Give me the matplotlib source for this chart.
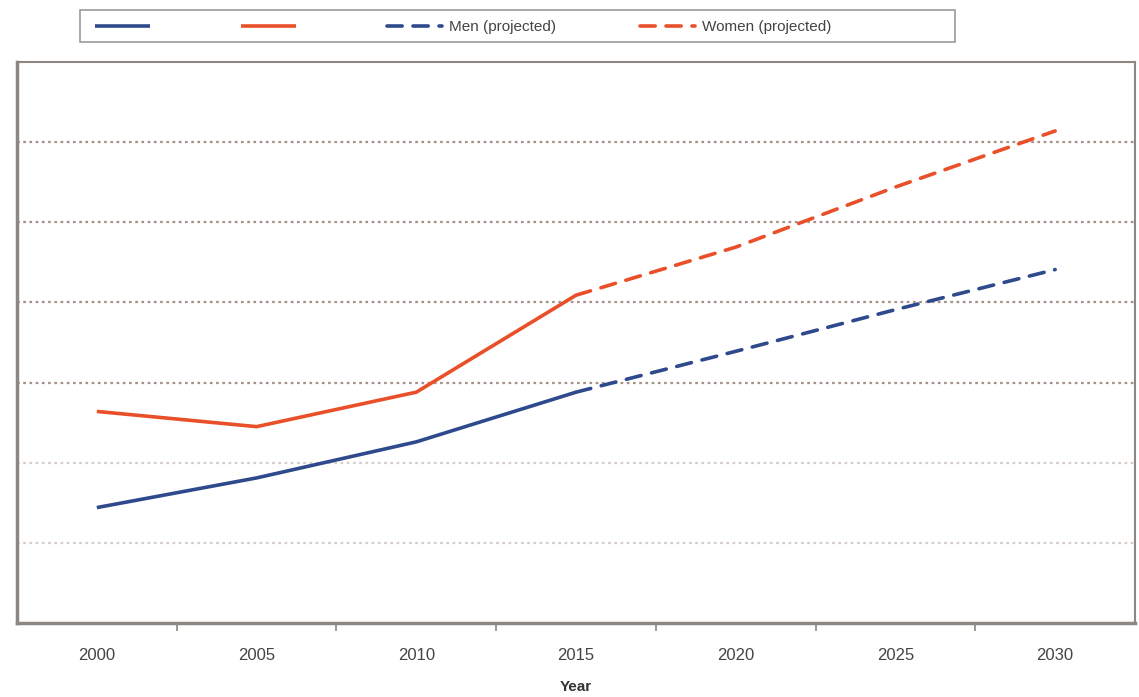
import matplotlib
matplotlib.use("Agg")
import matplotlib.pyplot as plt
from matplotlib.patches import Rectangle

years = ["2000", "2005", "2010", "2015", "2020", "2025", "2030"]
actual_years = ["2000", "2005", "2010", "2015"]
proj_years = ["2015", "2020", "2025", "2030"]

men_actual = [1.44, 1.81, 2.26, 2.88]
women_actual = [2.64, 2.45, 2.88, 4.09]
men_proj = [2.88, 3.39, 3.91, 4.41]
women_proj = [4.09, 4.69, 5.44, 6.14]

grid_levels = [1, 2, 3, 4, 5, 6]

_BLUE = "#2f4a8c"
_RED = "#e9502a"
_FRAME = "#8c8782"
_TEXT = "#444444"

plt.rcParams["font.family"] = ["Liberation Sans", "DejaVu Sans"]

fig = plt.figure(figsize=(11.39, 6.97), dpi=100)
ax = fig.add_axes([0.0149, 0.1062, 0.9816, 0.8048])

ax.plot(years, [None] * len(years), alpha=0)  # fix category order
l1, = ax.plot(actual_years, men_actual, "-", color=_BLUE, lw=2.6,
              solid_capstyle="butt")
l2, = ax.plot(actual_years, women_actual, "-", color=_RED, lw=2.6,
              solid_capstyle="butt")
l3, = ax.plot(proj_years, men_proj, "--", color=_BLUE, lw=2.6,
              dashes=(4.2, 3.0), dash_capstyle="round")
l4, = ax.plot(proj_years, women_proj, "--", color=_RED, lw=2.6,
              dashes=(4.2, 3.0), dash_capstyle="round")

ax.set_xlim(-0.5, 6.5)
ax.set_ylim(0, 7)
ax.set_yticks(grid_levels)
ax.set_yticklabels([])
ax.tick_params(axis="y", length=0)
ax.grid(axis="y", ls=(0, (1.2, 1.6)), lw=1.6, color="#a39189")
for i, gl in enumerate(ax.get_ygridlines()):
    if i < 2:
        gl.set_alpha(0.45)
ax.set_axisbelow(True)

ax.set_xticks(range(len(years)))
ax.set_xticklabels(years, fontsize=12, color=_TEXT)
ax.tick_params(axis="x", which="major", length=0, pad=18)
ax.set_xticks([i + 0.5 for i in range(len(years) - 1)], minor=True)
ax.tick_params(axis="x", which="minor", length=6, width=1.2, color=_FRAME,
               direction="out")
ax.set_xlabel("Year", fontsize=11, fontweight="bold", color="#333333",
              labelpad=12)

for side, sp in ax.spines.items():
    sp.set_color(_FRAME)
    sp.set_linewidth(1.5 if side in ("top", "right") else 2.5)

# legend box drawn separately so entries can sit where the original has them
fig.patches.append(Rectangle((80 / 1139, 1 - 42 / 697), 875 / 1139, 32 / 697,
                             transform=fig.transFigure, facecolor="white",
                             edgecolor="#9a9a9a", lw=1.2))
leg = fig.legend([l1, l2, l3, l4], ["", "", "Men (projected)", "Women (projected)"],
                 loc="center left", bbox_to_anchor=(95 / 1139, 1 - 27 / 697),
                 ncol=4, fontsize=11, handlelength=3.6, handletextpad=0.45,
                 columnspacing=5.5, borderpad=0, borderaxespad=0,
                 frameon=False, labelcolor=_TEXT)

fig.savefig("out.png", dpi=100)
